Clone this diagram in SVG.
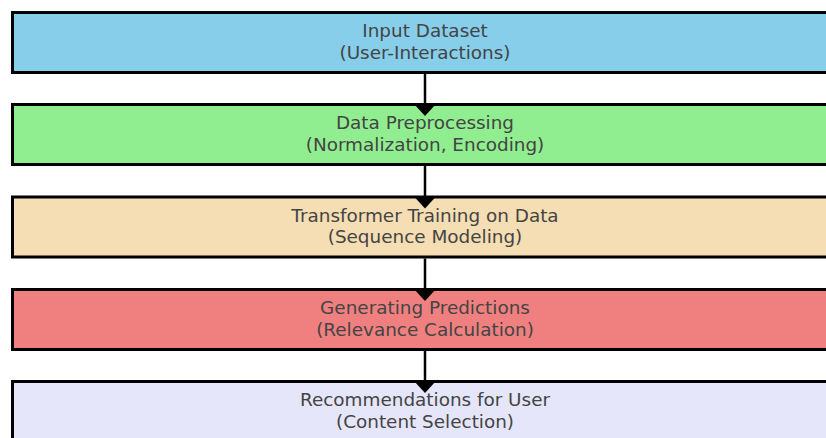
<svg xmlns="http://www.w3.org/2000/svg" width="826" height="438" viewBox="0 0 826 438">
  <style>
    .box { stroke: #000; stroke-width: 3; }
    .label { font-family: "DejaVu Sans", "Liberation Sans", sans-serif; font-size: 18.4px; fill: #444; text-anchor: middle; }
    .link { stroke: #000; stroke-width: 2.5; fill: none; }
    .head { fill: #000; }
  </style>
  <rect width="826" height="438" fill="#fff"/>

  <g id="input-dataset">
    <rect class="box" x="12.5" y="12.5" width="840" height="60" fill="#87CEEB"/>
    <text class="label" x="425" y="37">Input Dataset</text>
    <text class="label" x="425" y="58.5">(User-Interactions)</text>
  </g>

  <g id="data-preprocessing">
    <rect class="box" x="12.5" y="104.5" width="840" height="60" fill="#90EE90"/>
    <text class="label" x="425" y="129">Data Preprocessing</text>
    <text class="label" x="425" y="150.5">(Normalization, Encoding)</text>
  </g>

  <g id="transformer-training">
    <rect class="box" x="12.5" y="197" width="840" height="60" fill="#F5DEB3"/>
    <text class="label" x="425" y="221.5">Transformer Training on Data</text>
    <text class="label" x="425" y="243">(Sequence Modeling)</text>
  </g>

  <g id="generating-predictions">
    <rect class="box" x="12.5" y="289.5" width="840" height="60" fill="#F08080"/>
    <text class="label" x="425" y="314">Generating Predictions</text>
    <text class="label" x="425" y="335.5">(Relevance Calculation)</text>
  </g>

  <g id="recommendations">
    <rect class="box" x="12.5" y="381.5" width="840" height="60" fill="#E6E6FA"/>
    <text class="label" x="425" y="406">Recommendations for User</text>
    <text class="label" x="425" y="427.5">(Content Selection)</text>
  </g>

  <!-- vertical links, arrowheads sit on top of the next box -->
  <g id="connectors">
    <line class="link" x1="425" y1="74" x2="425" y2="110"/>
    <polygon class="head" points="414,104 436,104 425,116"/>
    <line class="link" x1="425" y1="166" x2="425" y2="202"/>
    <polygon class="head" points="414,196.5 436,196.5 425,208.5"/>
    <line class="link" x1="425" y1="258.5" x2="425" y2="295"/>
    <polygon class="head" points="414,289 436,289 425,301"/>
    <line class="link" x1="425" y1="351" x2="425" y2="387"/>
    <polygon class="head" points="414,381 436,381 425,393"/>
  </g>
</svg>
